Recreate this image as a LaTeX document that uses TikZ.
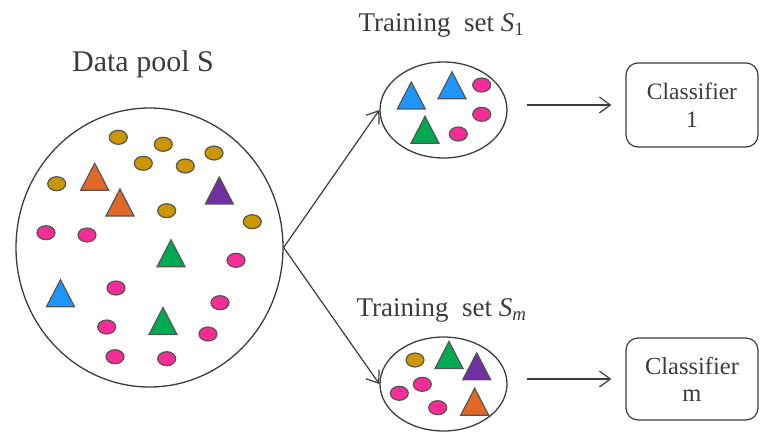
\documentclass[tikz,border=0pt]{standalone}
\usepackage{fontspec}
\setmainfont{Liberation Serif}
\newfontfamily\timesface{Liberation Serif}
\usetikzlibrary{shapes.geometric, arrows.meta}

\definecolor{edgegray}{RGB}{60,60,60}
\definecolor{shapegray}{RGB}{85,85,85}
\definecolor{gold}{RGB}{204,150,0}
\definecolor{rosepink}{RGB}{245,45,150}
\definecolor{orangetri}{RGB}{225,105,40}
\definecolor{purpletri}{RGB}{112,48,160}
\definecolor{greentri}{RGB}{0,170,80}
\definecolor{bluetri}{RGB}{30,150,255}

\tikzset{
  bag/.style={draw=edgegray, line width=1.3pt, ellipse, inner sep=0pt},
  dot/.style={draw=shapegray, line width=1.2pt, ellipse, inner sep=0pt,
    minimum width=18pt, minimum height=14pt},
  tri/.pic={\draw[draw=shapegray, fill=#1, line width=1.2pt]
    (0,-13.5) -- (14,13.5) -- (-14,13.5) -- cycle;},
  clfbox/.style={draw=edgegray, line width=1.2pt, rounded corners=12pt,
    minimum width=132pt, minimum height=84pt, align=center, text=edgegray},
  title/.style={anchor=base, text=edgegray}
}

\begin{document}
\begin{tikzpicture}[x=1pt, y=-1pt, >={Straight Barb[length=11pt, width=16pt]}]
  \useasboundingbox (0,0) rectangle (761,432);

  % pools
  \node[bag, minimum width=267pt, minimum height=279pt] (pool) at (149.5,247.5) {};
  \node[bag, minimum width=127pt, minimum height=96pt] (set1) at (443.5,110) {};
  \node[bag, minimum width=127pt, minimum height=94pt] (setm) at (443.5,384) {};

  % classifiers
  \node[clfbox, font=\timesface\fontsize{23.5}{28}\selectfont] (clf1) at (692,105) {Classifier\\1};
  \node[clfbox, minimum height=82pt, font=\timesface\fontsize{24.5}{27}\selectfont] (clfm) at (692,379) {Classifier\\m};

  % arrows
  \draw[->, edgegray, line width=1.2pt] (pool.east) -- (set1.west);
  \draw[->, edgegray, line width=1.2pt] (pool.east) -- (setm.west);
  \draw[->, edgegray, line width=1.2pt, shorten <=19pt, shorten >=14pt]
    (set1.east |- clf1.west) -- (clf1.west);
  \draw[->, edgegray, line width=1.2pt, shorten <=19pt, shorten >=14pt]
    (setm.east |- clfm.west) -- (clfm.west);

  % titles
  \node[title, font=\timesface\fontsize{30}{34}\selectfont] (tpool) at (143,71.7) {Data pool S};
  \node[title, font=\timesface\fontsize{27}{32}\selectfont] (tset1) at (441.5,31.7)
    {Training\ \ set \textit{S}\textsubscript{1}};
  \node[title, font=\timesface\fontsize{27}{32}\selectfont] (tsetm) at (441.5,316.7)
    {Training\ \ set \textit{S}\textsubscript{\textit{m}}};

  % data pool S
  \foreach \x/\y in {118.3/137.3, 163.3/144.3, 143.3/163.3, 185.3/166, 214/153,
                     56.7/183.7, 166.7/210.7, 252.3/221.7}
    \node[dot, fill=gold] at (\x,\y) {};
  \foreach \x/\y in {46/232.7, 87/235, 236/260.3, 116/288, 220/302.7,
                     106.7/327, 208/334, 115/356.7, 166.7/358.7}
    \node[dot, fill=rosepink] at (\x,\y) {};
  \pic at (94.7,176.8) {tri=orangetri};
  \pic at (120,202.5) {tri=orangetri};
  \pic at (219.3,190.5) {tri=purpletri};
  \pic at (171,253.3) {tri=greentri};
  \pic at (163,321) {tri=greentri};
  \pic at (60.5,293.2) {tri=bluetri};

  % training set S_1
  \pic at (411.3,95.5) {tri=bluetri};
  \pic at (452,85.3) {tri=bluetri};
  \pic at (425,129.8) {tri=greentri};
  \foreach \x/\y in {481.7/85, 481.7/114.3, 458.3/134}
    \node[dot, fill=rosepink] at (\x,\y) {};

  % training set S_m
  \node[dot, fill=gold] at (415,360) {};
  \foreach \x/\y in {422.3/384.3, 399.3/393.3, 437.7/407.7}
    \node[dot, fill=rosepink] at (\x,\y) {};
  \pic at (449,355) {tri=greentri};
  \pic at (476.7,366.3) {tri=purpletri};
  \pic at (474.7,401.7) {tri=orangetri};
\end{tikzpicture}
\end{document}
